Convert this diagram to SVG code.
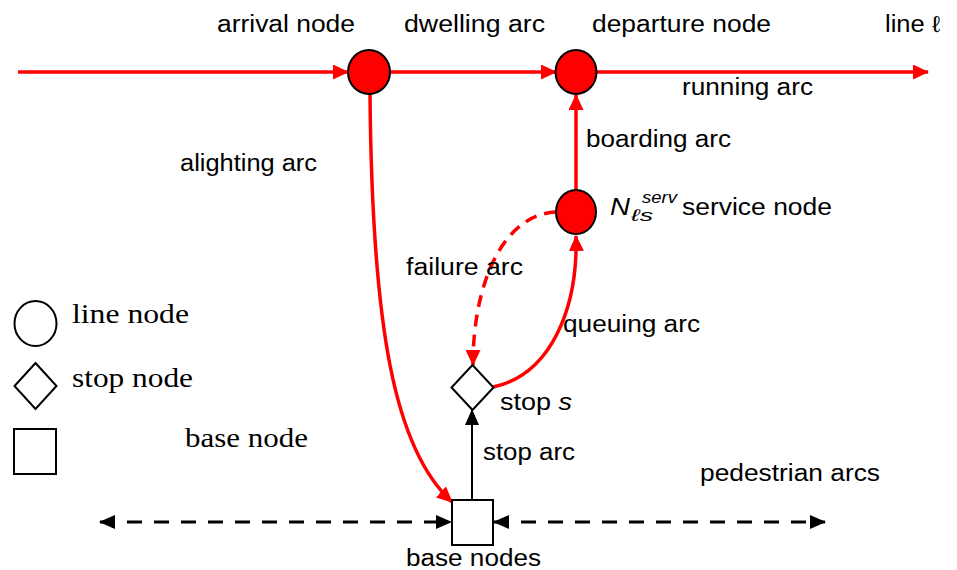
<svg xmlns="http://www.w3.org/2000/svg" width="957" height="570" viewBox="0 0 957 570">
  <style>
    .lbl { font-family: "Liberation Sans", Arial, sans-serif; font-size: 23px; fill: #000; }
    .sm { font-size: 17px; }
    .leg { font-family: "Liberation Serif", "Times New Roman", serif; font-size: 27px; fill: #000; }
    .it { font-style: italic; }
    .line-node { fill: #ff0000; stroke: #000; stroke-width: 2; }
    .shape { fill: #fff; stroke: #000; stroke-width: 2; }
    .red { fill: none; stroke: #ff0000; stroke-width: 3.5; }
    .red-dash { fill: none; stroke: #ff0000; stroke-width: 3.5; stroke-dasharray: 12 8; }
    .blk { fill: none; stroke: #000; stroke-width: 2; }
    .blk-dash { fill: none; stroke: #000; stroke-width: 3; stroke-dasharray: 15 12; }
  </style>
  <defs>
    <marker id="arrRed" viewBox="0 0 16 15" refX="15" refY="7.5" markerWidth="16" markerHeight="15" markerUnits="userSpaceOnUse" orient="auto">
      <path d="M0,0 L16,7.5 L0,15 z" fill="#ff0000"/>
    </marker>
    <marker id="arrBlk" viewBox="0 0 16 14" refX="15" refY="7" markerWidth="16" markerHeight="14" markerUnits="userSpaceOnUse" orient="auto-start-reverse">
      <path d="M0,0 L16,7 L0,14 z" fill="#000"/>
    </marker>
  </defs>

  <!-- connectors -->
  <g id="connectors">
    <path class="red" d="M18,72 L348,72" marker-end="url(#arrRed)"/>
    <path class="red" d="M390,72 L556,72" marker-end="url(#arrRed)"/>
    <path class="red" d="M597,72 L928,72" marker-end="url(#arrRed)"/>
    <path class="red" d="M576,190 L576,95" marker-end="url(#arrRed)"/>
    <path class="red" d="M370,94 C372,330 395,450 452,502" marker-end="url(#arrRed)"/>
    <path class="red" d="M493,387 C550,375 578,310 576,236" marker-end="url(#arrRed)"/>
    <path class="red-dash" d="M556,212 C505,214 473,280 473,365" marker-end="url(#arrRed)"/>
    <path class="blk" d="M472,500 L472,410" marker-end="url(#arrBlk)"/>
    <path class="blk-dash" d="M100,522 L451,522" marker-start="url(#arrBlk)" marker-end="url(#arrBlk)"/>
    <path class="blk-dash" d="M494,522 L825,522" marker-start="url(#arrBlk)" marker-end="url(#arrBlk)"/>
  </g>

  <!-- line nodes -->
  <g id="arrival-node"><ellipse class="line-node" cx="369" cy="72" rx="21" ry="22"/></g>
  <g id="departure-node"><ellipse class="line-node" cx="576" cy="72" rx="20.5" ry="22"/></g>
  <g id="service-node"><ellipse class="line-node" cx="576" cy="212" rx="20" ry="22"/></g>

  <!-- stop node -->
  <g id="stop-node"><path class="shape" d="M472.5,365 L493.5,387.5 L472.5,410 L451.5,387.5 z"/></g>

  <!-- base node -->
  <g id="base-node"><rect class="shape" x="452" y="500" width="41" height="45"/></g>

  <!-- labels -->
  <g id="labels">
    <text class="lbl" x="217" y="32" textLength="138" lengthAdjust="spacingAndGlyphs">arrival node</text>
    <text class="lbl" x="404" y="32" textLength="141" lengthAdjust="spacingAndGlyphs">dwelling arc</text>
    <text class="lbl" x="592" y="32" textLength="179" lengthAdjust="spacingAndGlyphs">departure node</text>
    <text class="lbl" x="885" y="32" textLength="55" lengthAdjust="spacingAndGlyphs">line ℓ</text>
    <text class="lbl" x="682" y="95" textLength="131" lengthAdjust="spacingAndGlyphs">running arc</text>
    <text class="lbl" x="586" y="147" textLength="145" lengthAdjust="spacingAndGlyphs">boarding arc</text>
    <text class="lbl" x="180" y="171" textLength="137" lengthAdjust="spacingAndGlyphs">alighting arc</text>
    <text class="lbl it" x="610" y="215" textLength="20" lengthAdjust="spacingAndGlyphs">N</text>
    <text class="lbl it sm" x="631" y="221" textLength="22" lengthAdjust="spacingAndGlyphs">ℓs</text>
    <text class="lbl it sm" x="642" y="203" textLength="35" lengthAdjust="spacingAndGlyphs">serv</text>
    <text class="lbl" x="682" y="215" textLength="150" lengthAdjust="spacingAndGlyphs">service node</text>
    <text class="lbl" x="406" y="275" textLength="117" lengthAdjust="spacingAndGlyphs">failure arc</text>
    <text class="lbl" x="563" y="332" textLength="137" lengthAdjust="spacingAndGlyphs">queuing arc</text>
    <text class="lbl" x="500" y="410" textLength="72" lengthAdjust="spacingAndGlyphs">stop <tspan class="it">s</tspan></text>
    <text class="lbl" x="483" y="460" textLength="92" lengthAdjust="spacingAndGlyphs">stop arc</text>
    <text class="lbl" x="700" y="481" textLength="180" lengthAdjust="spacingAndGlyphs">pedestrian arcs</text>
    <text class="lbl" x="406" y="566" textLength="135" lengthAdjust="spacingAndGlyphs">base nodes</text>
  </g>

  <!-- legend -->
  <g id="legend">
    <ellipse class="shape" cx="35.5" cy="323.5" rx="21" ry="22.5"/>
    <path class="shape" d="M35.5,363 L56.5,386 L35.5,409 L14.5,386 z"/>
    <rect class="shape" x="14" y="429" width="42" height="45"/>
    <text class="leg" x="72" y="323" textLength="117" lengthAdjust="spacingAndGlyphs">line node</text>
    <text class="leg" x="72" y="387" textLength="121" lengthAdjust="spacingAndGlyphs">stop node</text>
    <text class="leg" x="185" y="447" textLength="123" lengthAdjust="spacingAndGlyphs">base node</text>
  </g>
</svg>
